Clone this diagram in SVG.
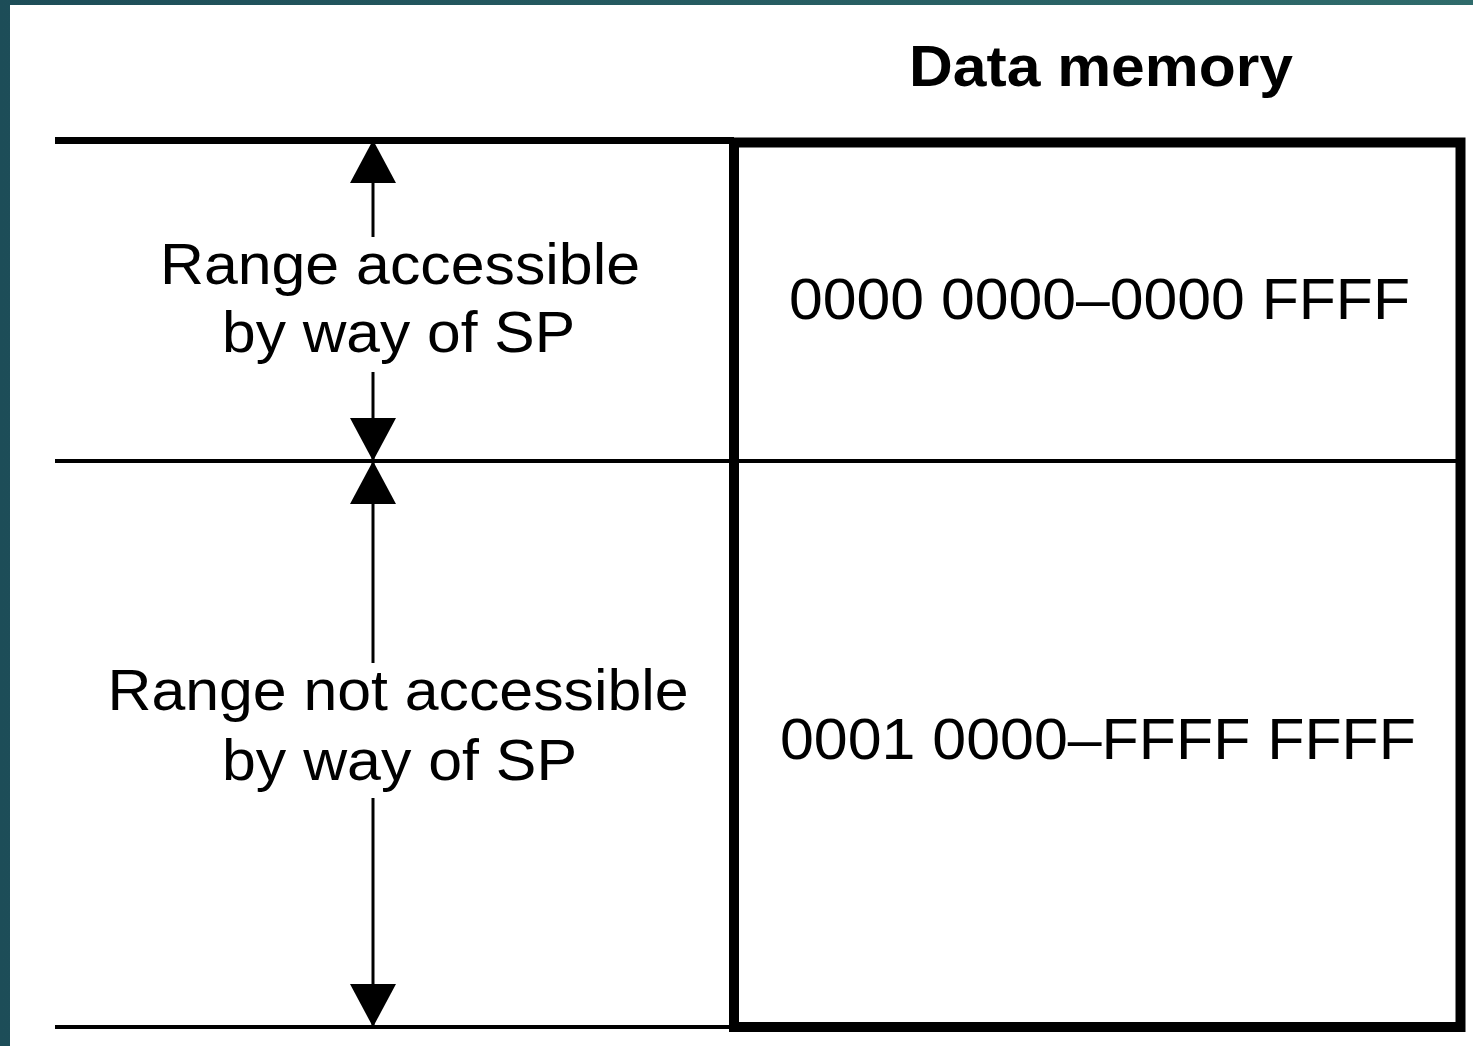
<svg xmlns="http://www.w3.org/2000/svg" width="1473" height="1046" viewBox="0 0 1473 1046">
<style>
.t{font-family:"Liberation Sans",Arial,sans-serif;font-size:57px;fill:#000;text-anchor:middle}
.b{font-weight:bold}
.ln{stroke:#000;fill:none}
.sh{stroke:#000;stroke-width:3;fill:none;marker-end:url(#ah)}
</style>
<defs>
<linearGradient id="bg" x1="0" y1="0" x2="1" y2="0">
<stop offset="0" stop-color="#1d4d58"/>
<stop offset="1" stop-color="#2f6b6b"/>
</linearGradient>
<marker id="ah" markerUnits="userSpaceOnUse" markerWidth="44" markerHeight="46" refX="43" refY="23" orient="auto" viewBox="0 0 44 46">
<path d="M0,0 L43,23 L0,46 z" fill="#000"/>
</marker>
</defs>
<rect x="0" y="0" width="1473" height="1046" fill="url(#bg)"/>
<rect x="10" y="5" width="1463" height="1041" fill="#fff"/>
<g id="title">
<text class="t b" x="1101" y="86" textLength="384" lengthAdjust="spacingAndGlyphs">Data memory</text>
</g>
<g id="memory-box">
<rect class="ln" x="734" y="142.5" width="726.5" height="884.5" stroke-width="10"/>
</g>
<g id="region-upper">
<text class="t" x="1099.5" y="319" textLength="621" lengthAdjust="spacingAndGlyphs">0000 0000–0000 FFFF</text>
</g>
<g id="region-lower">
<text class="t" x="1098" y="759" textLength="636" lengthAdjust="spacingAndGlyphs">0001 0000–FFFF FFFF</text>
</g>
<g id="label-accessible">
<text class="t" x="400" y="284" textLength="480" lengthAdjust="spacingAndGlyphs">Range accessible</text>
<text class="t" x="398.5" y="352" textLength="353" lengthAdjust="spacingAndGlyphs">by way of SP</text>
</g>
<g id="label-not-accessible">
<text class="t" x="398" y="710" textLength="581" lengthAdjust="spacingAndGlyphs">Range not accessible</text>
<text class="t" x="399.5" y="780" textLength="355" lengthAdjust="spacingAndGlyphs">by way of SP</text>
</g>
<g id="connectors">
<line class="ln" x1="55" y1="140.5" x2="734" y2="140.5" stroke-width="7"/>
<line class="ln" x1="55" y1="461" x2="1460" y2="461" stroke-width="4"/>
<line class="ln" x1="55" y1="1027" x2="734" y2="1027" stroke-width="4"/>
<line class="sh" x1="373" y1="237" x2="373" y2="140"/>
<line class="sh" x1="373" y1="372" x2="373" y2="461"/>
<line class="sh" x1="373" y1="663" x2="373" y2="461"/>
<line class="sh" x1="373" y1="798" x2="373" y2="1027"/>
</g>
</svg>
